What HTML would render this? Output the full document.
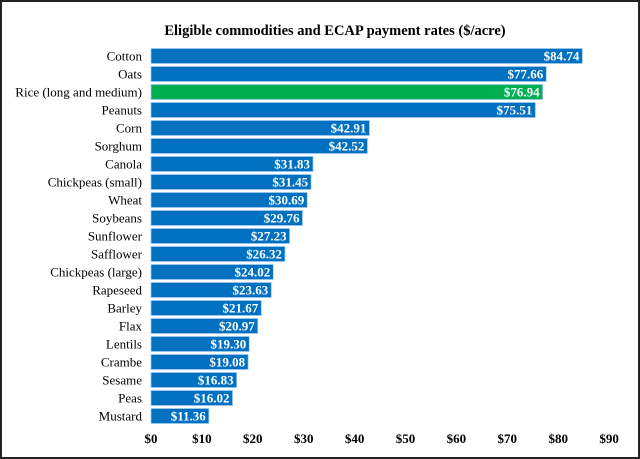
<!DOCTYPE html>
<html><head><meta charset="utf-8"><style>
html,body{margin:0;padding:0;background:#fff}
#wrap{position:relative;width:636px;height:455px;border:2px solid #222;overflow:hidden;font-family:"Liberation Serif",serif}
svg{position:absolute;left:0;top:0}
</style></head><body>
<div id="wrap">
<svg id="chart" width="636" height="455"></svg>
</div>
<script>
const categories=["Cotton","Oats","Rice (long and medium)","Peanuts","Corn","Sorghum","Canola","Chickpeas (small)","Wheat","Soybeans","Sunflower","Safflower","Chickpeas (large)","Rapeseed","Barley","Flax","Lentils","Crambe","Sesame","Peas","Mustard"];
const values=[84.74,77.66,76.94,75.51,42.91,42.52,31.83,31.45,30.69,29.76,27.23,26.32,24.02,23.63,21.67,20.97,19.30,19.08,16.83,16.02,11.36];
const highlight=["Rice (long and medium)"];
const ticks=[0,10,20,30,40,50,60,70,80,90];
const NS="http://www.w3.org/2000/svg";
const svg=document.getElementById('chart');
const x0=149,pxPer=5.09;
const xs=v=>x0+v*pxPer;
const y0=54,step=18,bh=15;
const ys=i=>y0+i*step;
function mk(t,a){const e=document.createElementNS(NS,t);for(const k in a)e.setAttribute(k,a[k]);svg.appendChild(e);return e;}
const title=mk('text',{x:333,y:33,'text-anchor':'middle','font-size':'14.5','font-weight':'bold',fill:'#000'});
title.textContent="Eligible commodities and ECAP payment rates ($/acre)";


categories.forEach((c,i)=>{
  const cy=ys(i);
  const r=mk('rect',{x:xs(0),y:cy-bh/2,width:xs(values[i])-xs(0),height:bh,fill:highlight.includes(c)?'#00b050':'#0070c0',stroke:'#9cc8ee','stroke-width':'0.8'});
  
  
  const l=mk('text',{x:140,y:cy+4.5,'text-anchor':'end','font-size':'13',fill:'#000'});
  l.textContent=c;
  
  
  const v=mk('text',{x:xs(values[i])-3,y:cy+4.5,'text-anchor':'end','font-size':'13','font-weight':'bold',fill:'#fff'});
  v.textContent='$'+values[i].toFixed(2);
  
  
});
ticks.forEach(t=>{
  const e=mk('text',{x:xs(t),y:441,'text-anchor':'middle','font-size':'13','font-weight':'bold',fill:'#000'});
  e.textContent='$'+t;
  
  
});
</script>
</body></html>
